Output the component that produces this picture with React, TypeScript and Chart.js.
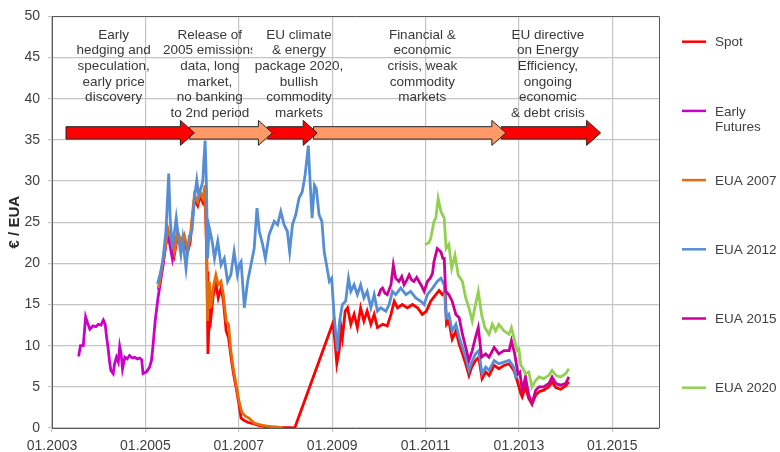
import React, { useEffect, useRef } from "react";
import { Chart, registerables } from "chart.js";

Chart.register(...registerables);

type Pt = [number, number];

// ---------- axes ----------
const xTickYears = [2003, 2005, 2007, 2009, 2011, 2013, 2015];
const yTickValues = [0, 5, 10, 15, 20, 25, 30, 35, 40, 45, 50];

// ---------- series (decimal year, €/EUA) ----------
const spot: Pt[] = [
  [2005.28, 16.8], [2005.37, 19.9], [2005.48, 23.8], [2005.55, 22.6], [2005.62, 21.0], [2005.69, 23.5],
  [2005.76, 22.3], [2005.83, 23.1], [2005.9, 21.3], [2005.96, 22.6], [2006.0, 25.0], [2006.05, 27.8],
  [2006.12, 27.0], [2006.17, 28.2], [2006.23, 27.4], [2006.28, 29.0], [2006.32, 19.0], [2006.34, 9.0],
  [2006.37, 14.5], [2006.4, 13.2], [2006.45, 16.0], [2006.51, 17.6], [2006.56, 15.8], [2006.62, 17.0],
  [2006.67, 15.5], [2006.73, 11.8], [2006.78, 11.0], [2006.83, 8.8], [2006.89, 6.5], [2006.94, 5.0],
  [2007.0, 3.0], [2007.05, 1.2], [2007.12, 0.9], [2007.19, 0.7], [2007.33, 0.5], [2007.44, 0.3],
  [2007.58, 0.15], [2007.72, 0.08], [2007.94, 0.05], [2008.1, 0.03], [2008.2, 0.02],
  [2009.02, 12.8], [2009.06, 10.5], [2009.1, 7.8], [2009.15, 9.4], [2009.19, 12.2], [2009.22, 11.0],
  [2009.28, 14.2], [2009.33, 14.6], [2009.4, 12.6], [2009.47, 13.8], [2009.54, 12.2], [2009.61, 14.6],
  [2009.68, 13.0], [2009.75, 14.2], [2009.83, 12.6], [2009.9, 13.8], [2009.97, 12.2], [2010.08, 12.6],
  [2010.18, 12.4], [2010.26, 13.8], [2010.33, 15.4], [2010.4, 14.6], [2010.5, 15.0], [2010.61, 14.6],
  [2010.72, 15.0], [2010.83, 14.6], [2010.93, 13.8], [2011.02, 14.2], [2011.11, 15.4], [2011.22, 16.2],
  [2011.29, 16.7], [2011.36, 16.2], [2011.42, 16.6], [2011.45, 12.6], [2011.5, 13.0], [2011.57, 10.8],
  [2011.65, 11.8], [2011.72, 10.2], [2011.79, 9.0], [2011.86, 7.8], [2011.93, 6.4], [2011.99, 7.4],
  [2012.07, 8.2], [2012.14, 8.6], [2012.21, 6.0], [2012.29, 6.8], [2012.36, 6.4], [2012.47, 7.6],
  [2012.57, 7.2], [2012.68, 7.6], [2012.79, 7.8], [2012.89, 7.0], [2012.96, 5.8], [2013.04, 4.2],
  [2013.07, 3.8], [2013.14, 5.0], [2013.21, 3.6], [2013.28, 2.9], [2013.36, 4.0], [2013.43, 4.4],
  [2013.53, 4.6], [2013.64, 5.0], [2013.71, 5.6], [2013.79, 4.9], [2013.89, 4.7], [2014.0, 5.1],
  [2014.07, 5.6],
];

const earlyFutures: Pt[] = [
  [2003.57, 8.7], [2003.61, 10.0], [2003.67, 10.0], [2003.72, 13.5], [2003.76, 12.8], [2003.81, 12.0],
  [2003.88, 12.4], [2003.94, 12.3], [2003.99, 12.6], [2004.05, 12.5], [2004.1, 13.1], [2004.14, 12.6],
  [2004.17, 11.0], [2004.2, 9.8], [2004.23, 8.2], [2004.26, 7.0], [2004.31, 6.6], [2004.34, 7.8],
  [2004.38, 8.6], [2004.42, 8.0], [2004.45, 9.9], [2004.48, 9.0], [2004.51, 7.2], [2004.56, 8.6],
  [2004.61, 8.4], [2004.66, 8.8], [2004.72, 8.5], [2004.77, 8.6], [2004.83, 8.4], [2004.88, 8.5],
  [2004.92, 8.3], [2004.95, 6.6], [2005.02, 6.8], [2005.09, 7.4], [2005.13, 8.2], [2005.16, 9.8],
  [2005.21, 13.0], [2005.27, 15.8], [2005.33, 18.0], [2005.38, 19.8], [2005.44, 22.5], [2005.5, 23.0],
  [2005.58, 20.5], [2005.66, 23.0], [2005.72, 22.5],
];

const eua2007: Pt[] = [
  [2005.28, 17.0], [2005.33, 18.6], [2005.37, 20.2], [2005.43, 22.0], [2005.48, 24.3], [2005.55, 23.0],
  [2005.62, 21.4], [2005.69, 23.9], [2005.76, 22.7], [2005.83, 23.5], [2005.9, 21.8], [2005.96, 23.0],
  [2006.0, 25.5], [2006.05, 28.3], [2006.12, 27.5], [2006.17, 28.7], [2006.23, 27.9], [2006.28, 29.5],
  [2006.31, 22.0], [2006.33, 13.0], [2006.35, 16.5], [2006.37, 17.8], [2006.4, 14.6], [2006.45, 17.0],
  [2006.51, 18.6], [2006.56, 17.4], [2006.62, 17.8], [2006.67, 16.2], [2006.73, 13.0], [2006.78, 12.6],
  [2006.83, 9.4], [2006.89, 7.0], [2006.94, 5.4], [2007.0, 3.4], [2007.05, 2.2], [2007.08, 1.8],
  [2007.15, 1.4], [2007.22, 1.2], [2007.33, 0.6], [2007.44, 0.4], [2007.58, 0.25], [2007.72, 0.15],
  [2007.85, 0.1], [2007.95, 0.08],
];

const eua2012: Pt[] = [
  [2005.26, 17.5], [2005.32, 18.8], [2005.37, 20.2], [2005.44, 23.9], [2005.5, 30.9], [2005.53, 25.5],
  [2005.58, 21.8], [2005.66, 25.5], [2005.71, 23.0], [2005.76, 21.1], [2005.8, 23.0], [2005.87, 19.4],
  [2005.9, 21.1], [2005.94, 23.3], [2006.0, 24.0], [2006.05, 27.9], [2006.1, 30.1], [2006.14, 28.3],
  [2006.19, 29.1], [2006.23, 30.0], [2006.25, 32.3], [2006.28, 34.9], [2006.31, 29.0], [2006.33, 20.6],
  [2006.37, 24.3], [2006.43, 22.7], [2006.48, 20.6], [2006.55, 22.7], [2006.62, 19.8], [2006.69, 20.6],
  [2006.76, 17.8], [2006.83, 18.6], [2006.9, 21.4], [2006.97, 18.6], [2007.01, 19.8], [2007.05, 20.2],
  [2007.12, 14.6], [2007.19, 17.8], [2007.26, 19.8], [2007.33, 21.8], [2007.39, 26.7], [2007.44, 23.9],
  [2007.51, 22.3], [2007.57, 20.6], [2007.65, 23.5], [2007.76, 25.1], [2007.83, 24.7], [2007.9, 26.3],
  [2007.97, 24.7], [2008.04, 23.9], [2008.09, 21.4], [2008.15, 24.7], [2008.22, 25.9], [2008.29, 27.9],
  [2008.36, 28.7], [2008.42, 30.7], [2008.49, 34.3], [2008.52, 30.7], [2008.57, 25.5], [2008.62, 29.5],
  [2008.66, 29.1], [2008.72, 25.9], [2008.78, 25.1], [2008.83, 21.4], [2008.88, 19.8], [2008.94, 17.8],
  [2008.99, 18.2], [2009.04, 13.8], [2009.11, 9.4], [2009.16, 13.0], [2009.22, 15.0], [2009.29, 15.4],
  [2009.35, 18.2], [2009.4, 16.6], [2009.47, 17.4], [2009.54, 16.2], [2009.61, 17.4], [2009.68, 15.8],
  [2009.75, 16.6], [2009.83, 14.6], [2009.9, 16.2], [2009.97, 14.2], [2010.04, 14.6], [2010.15, 14.2],
  [2010.22, 15.0], [2010.29, 16.6], [2010.36, 16.2], [2010.47, 17.0], [2010.58, 16.2], [2010.68, 16.6],
  [2010.79, 15.8], [2010.9, 15.4], [2010.97, 15.0], [2011.04, 16.2], [2011.15, 17.0], [2011.25, 17.8],
  [2011.33, 18.2], [2011.4, 17.4], [2011.44, 13.4], [2011.5, 13.8], [2011.57, 11.8], [2011.65, 12.6],
  [2011.72, 11.0], [2011.79, 9.8], [2011.86, 8.6], [2011.93, 7.0], [2011.99, 8.0], [2012.07, 9.0],
  [2012.14, 9.4], [2012.21, 6.6], [2012.29, 7.4], [2012.36, 7.0], [2012.47, 8.2], [2012.57, 7.8],
  [2012.68, 8.0], [2012.79, 8.2], [2012.89, 7.4], [2012.94, 6.0],
];

const eua2015: Pt[] = [
  [2009.99, 16.0], [2010.04, 16.8], [2010.08, 17.0], [2010.13, 16.4], [2010.18, 16.2], [2010.26, 17.4],
  [2010.31, 19.8], [2010.36, 18.2], [2010.43, 17.8], [2010.49, 18.4], [2010.54, 17.4], [2010.6, 18.0],
  [2010.65, 18.6], [2010.7, 18.0], [2010.75, 17.8], [2010.81, 18.3], [2010.86, 17.8], [2010.92, 17.2],
  [2010.97, 16.6], [2011.04, 17.8], [2011.1, 18.2], [2011.15, 18.8], [2011.18, 20.2], [2011.25, 21.8],
  [2011.29, 21.6], [2011.33, 21.4], [2011.37, 20.6], [2011.4, 20.6], [2011.43, 16.6], [2011.5, 16.2],
  [2011.57, 15.4], [2011.65, 13.8], [2011.72, 13.4], [2011.79, 11.4], [2011.86, 9.8], [2011.93, 8.2],
  [2012.0, 9.4], [2012.07, 11.0], [2012.13, 12.2], [2012.2, 8.6], [2012.29, 9.0], [2012.36, 8.6],
  [2012.47, 9.8], [2012.57, 9.0], [2012.68, 9.4], [2012.79, 9.4], [2012.84, 10.6], [2012.91, 9.0],
  [2012.98, 6.6], [2013.02, 6.8], [2013.07, 4.6], [2013.14, 6.2], [2013.21, 4.0], [2013.28, 3.0],
  [2013.36, 4.6], [2013.43, 5.0], [2013.53, 5.0], [2013.64, 5.4], [2013.71, 6.2], [2013.79, 5.4],
  [2013.89, 5.2], [2014.0, 5.4], [2014.07, 6.2],
];

const eua2020: Pt[] = [
  [2010.99, 22.3], [2011.07, 22.5], [2011.11, 23.0], [2011.18, 25.1], [2011.22, 25.5], [2011.27, 27.9],
  [2011.33, 26.3], [2011.4, 25.5], [2011.44, 21.8], [2011.5, 22.3], [2011.56, 19.4], [2011.63, 21.0],
  [2011.7, 18.6], [2011.79, 17.8], [2011.86, 15.8], [2011.93, 14.6], [2012.0, 13.0], [2012.07, 15.0],
  [2012.13, 16.6], [2012.2, 13.8], [2012.27, 12.2], [2012.36, 11.4], [2012.43, 12.6], [2012.5, 11.8],
  [2012.57, 12.6], [2012.68, 11.8], [2012.79, 11.4], [2012.84, 12.2], [2012.91, 10.6], [2012.96, 9.4],
  [2013.0, 9.6], [2013.04, 7.6], [2013.07, 7.4], [2013.14, 6.6], [2013.21, 6.8], [2013.28, 5.0],
  [2013.36, 5.8], [2013.43, 6.2], [2013.53, 6.0], [2013.64, 6.4], [2013.71, 7.0], [2013.79, 6.4],
  [2013.89, 6.2], [2014.0, 6.6], [2014.07, 7.2],
];

const seriesData = [spot, earlyFutures, eua2007, eua2012, eua2015, eua2020];
const seriesNames = ["Spot", "Early Futures", "EUA 2007", "EUA 2012", "EUA 2015", "EUA 2020"];
const legendLines = [["Spot"], ["Early", "Futures"], ["EUA 2007"], ["EUA 2012"], ["EUA 2015"], ["EUA 2020"]];
const seriesColors = ["#ff0000", "#cc00cc", "#e46c0a", "#558ed5", "#cc0099", "#92d050"];

// ---------- phase arrows (decimal years) ----------
const arrowFrom = [2003.3, 2005.95, 2007.62, 2008.6, 2012.62];
const arrowTo = [2006.05, 2007.72, 2008.68, 2012.72, 2014.75];
const arrowFill = ["#ff0000", "#ff9966", "#ff0000", "#ff9966", "#ff0000"];
const arrowLevel = 35.85;

// ---------- phase notes ----------
const noteYears = [2004.32, 2006.38, 2008.29, 2010.93, 2013.62];
const noteTexts = [
  ["Early", "hedging and", "speculation,", "early price", "discovery"],
  ["Release of", "2005 emissions", "data, long", "market,", "no banking", "to 2nd period"],
  ["EU climate", "& energy", "package 2020,", "bullish", "commodity", "markets"],
  ["Financial &", "economic", "crisis, weak", "commodity", "markets"],
  ["EU directive", "on Energy", "Efficiency,", "ongoing", "economic", "& debt crisis"],
];
const noteTopValue = 47.75;

const FONT = "'Liberation Sans', Arial, Helvetica, sans-serif";
const TEXT = "#404040";
const GRID = "#c4c4c4";
const FRAME = "#595959";

const overlay = {
  id: "overlay",
  afterDatasetsDraw(chart: any) {
    const { ctx, chartArea: a, scales } = chart;
    const xs = scales.x;
    const ys = scales.y;
    ctx.save();

    // frame top / right
    ctx.strokeStyle = FRAME;
    ctx.lineWidth = 1;
    ctx.beginPath();
    ctx.moveTo(a.left, Math.round(a.top) + 0.5);
    ctx.lineTo(Math.round(a.right) + 0.5, Math.round(a.top) + 0.5);
    ctx.lineTo(Math.round(a.right) + 0.5, a.bottom);
    ctx.stroke();

    // arrows (earlier arrows drawn on top)
    const yc = ys.getPixelForValue(arrowLevel);
    const bodyH = 6.2;
    const headH = 12.5;
    const headL = 14;
    for (let i = arrowTo.length - 1; i >= 0; i--) {
      const x0 = xs.getPixelForValue(arrowFrom[i]);
      const xt = xs.getPixelForValue(arrowTo[i]);
      const xh = xt - headL;
      ctx.beginPath();
      ctx.moveTo(x0, yc - bodyH);
      ctx.lineTo(xh, yc - bodyH);
      ctx.lineTo(xh, yc - headH);
      ctx.lineTo(xt, yc);
      ctx.lineTo(xh, yc + headH);
      ctx.lineTo(xh, yc + bodyH);
      ctx.lineTo(x0, yc + bodyH);
      ctx.closePath();
      ctx.fillStyle = arrowFill[i];
      ctx.fill();
      ctx.strokeStyle = "#262626";
      ctx.lineWidth = 1;
      ctx.stroke();
    }

    // notes
    ctx.font = `13.5px ${FONT}`;
    ctx.fillStyle = "#383838";
    ctx.textAlign = "center";
    ctx.textBaseline = "middle";
    const y0 = ys.getPixelForValue(noteTopValue);
    noteTexts.forEach((lines, i) => {
      const cx = xs.getPixelForValue(noteYears[i]);
      ctx.save();
      if (i === 1) {
        ctx.beginPath();
        ctx.rect(cx - 60, 0, 60 + 42.5, 200);
        ctx.clip();
      }
      lines.forEach((t, k) => ctx.fillText(t, cx, y0 + k * 15.7));
      ctx.restore();
    });

    // legend
    ctx.textAlign = "left";
    ctx.font = `13.5px ${FONT}`;
    legendLines.forEach((lines, i) => {
      const ly = 41.7 + i * 69.2;
      ctx.strokeStyle = seriesColors[i];
      ctx.lineWidth = 2.5;
      ctx.beginPath();
      ctx.moveTo(682, ly);
      ctx.lineTo(706, ly);
      ctx.stroke();
      ctx.fillStyle = TEXT;
      lines.forEach((t, k) => ctx.fillText(t, 715, ly + 1 + k * 15.5));
    });

    ctx.restore();
  },
};

export default function App() {
  const ref = useRef<HTMLCanvasElement | null>(null);

  useEffect(() => {
    document.body.style.margin = "0";
    if (!ref.current) return;
    const chart = new Chart(ref.current, {
      type: "line",
      data: {
        datasets: seriesData.map((pts, i) => ({
          label: seriesNames[i],
          data: pts.map(([x, y]) => ({ x, y })),
          borderColor: seriesColors[i],
          backgroundColor: seriesColors[i],
          borderWidth: 2.8,
          pointRadius: 0,
          tension: 0,
          fill: false,
          order: seriesData.length - i,
        })),
      },
      options: {
        responsive: false,
        animation: false,
        layout: { padding: { left: 0, top: 13, right: 121, bottom: 0 } },
        plugins: { legend: { display: false }, tooltip: { enabled: false } },
        scales: {
          x: {
            type: "linear",
            min: 2003,
            max: 2016,
            afterBuildTicks: (s: any) => {
              s.ticks = xTickYears.map((v) => ({ value: v }));
            },
            afterFit: (s: any) => {
              s.height = 24;
            },
            ticks: {
              callback: (v: any) => "01." + v,
              font: { family: FONT, size: 14 },
              color: TEXT,
              padding: 6,
              maxRotation: 0,
              autoSkip: false,
            },
            grid: { color: GRID, lineWidth: 1.2, tickLength: 4 },
            border: { color: FRAME, width: 1 },
          },
          y: {
            type: "linear",
            min: 0,
            max: 50,
            afterBuildTicks: (s: any) => {
              s.ticks = yTickValues.map((v) => ({ value: v }));
            },
            afterFit: (s: any) => {
              s.width = 52;
            },
            ticks: {
              font: { family: FONT, size: 14 },
              color: TEXT,
              padding: 8,
            },
            grid: { color: GRID, lineWidth: 1.2, tickLength: 4 },
            border: { color: FRAME, width: 1 },
            title: {
              display: true,
              text: "€ / EUA",
              font: { family: FONT, size: 15, weight: "bold" },
              color: "#262626",
              padding: { top: 6, bottom: 0 },
            },
          },
        },
      },
      plugins: [overlay],
    } as any);
    return () => chart.destroy();
  }, []);

  return <canvas ref={ref} width={780} height={452} style={{ display: "block", width: 780, height: 452 }} />;
}
